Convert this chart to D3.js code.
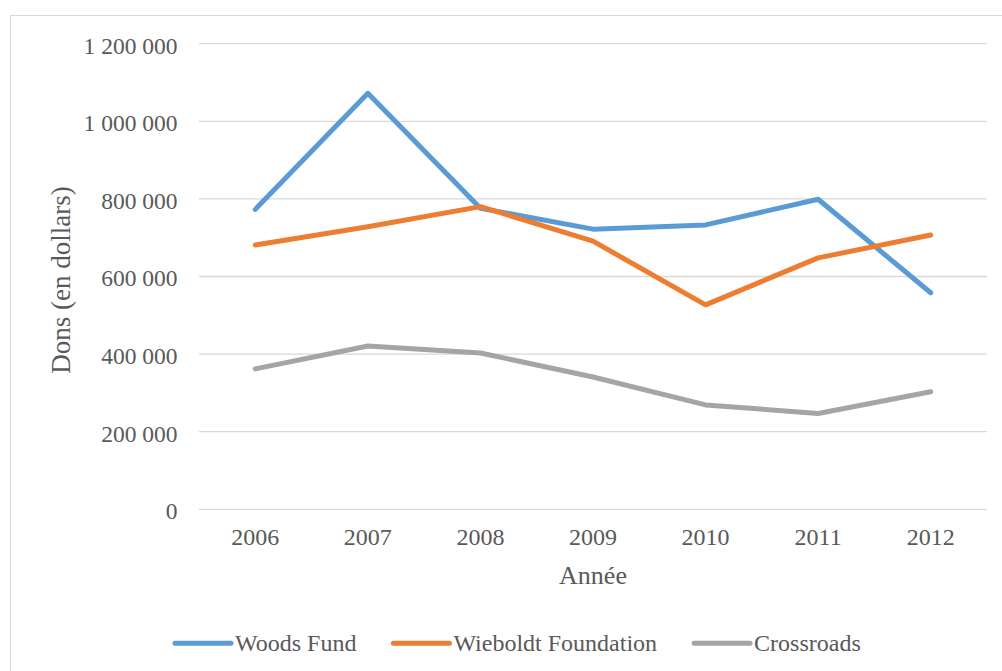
<!DOCTYPE html>
<html>
<head>
<meta charset="utf-8">
<script src="https://cdn.jsdelivr.net/npm/d3@7"></script>
<style>
  body { margin: 0; background: #fff; }
  svg text { font-family: "Liberation Serif", "Times New Roman", serif; fill: #595959; }
</style>
</head>
<body>
<div id="chart"></div>
<script>
// données
const years = ["2006", "2007", "2008", "2009", "2010", "2011", "2012"];
const woodsFund = [773000, 1072000, 776000, 722000, 733000, 799000, 558000];
const wieboldt = [681000, 728000, 780000, 691000, 527000, 648000, 707000];
const crossroads = [362000, 421000, 403000, 341000, 269000, 247000, 303000];
const yTicks = [0, 200000, 400000, 600000, 800000, 1000000, 1200000];

const seriesNames = ["Woods Fund", "Wieboldt Foundation", "Crossroads"];
const seriesColors = ["#5B9BD5", "#ED7D31", "#A5A5A5"];
const seriesValues = [woodsFund, wieboldt, crossroads];

const width = 1002, height = 671;
const margin = { left: 199, right: 15, top: 43.7, bottom: 161.7 };

const svg = d3.select("#chart").append("svg")
  .attr("width", width)
  .attr("height", height);

// cadre
svg.append("rect")
  .attr("x", 10.5).attr("y", 15.5)
  .attr("width", 1000).attr("height", 700)
  .attr("fill", "none")
  .attr("stroke", "#d9d9d9");

const x = d3.scaleBand()
  .domain(years)
  .range([margin.left, width - margin.right]);

const y = d3.scaleLinear()
  .domain([0, 1200000])
  .range([height - margin.bottom, margin.top]);

const fmt = (v) => d3.format(",")(v).replace(/,/g, " ");

// grille
svg.append("g")
  .selectAll("line")
  .data(yTicks)
  .enter()
  .append("line")
  .attr("x1", margin.left)
  .attr("x2", width - margin.right)
  .attr("y1", (d) => y(d))
  .attr("y2", (d) => y(d))
  .attr("stroke", "#d9d9d9")
  .attr("stroke-width", 1.3);

// axe Y
const yAxis = svg.append("g")
  .attr("transform", `translate(${margin.left - 21.5},0)`)
  .call(d3.axisLeft(y).tickValues(yTicks).tickFormat(fmt).tickSize(0).tickPadding(0));
yAxis.select(".domain").remove();
yAxis.selectAll("text")
  .attr("font-size", 23.5)
  .attr("dy", 0)
  .attr("y", 9.3);

// axe X
const xAxis = svg.append("g")
  .attr("transform", `translate(0,${y(0)})`)
  .call(d3.axisBottom(x).tickSize(0));
xAxis.select(".domain").remove();
xAxis.selectAll("text")
  .attr("font-size", 24)
  .attr("dy", 0)
  .attr("y", 36);

// titres
svg.append("text")
  .attr("x", (margin.left + width - margin.right) / 2)
  .attr("y", 584)
  .attr("text-anchor", "middle")
  .attr("font-size", 26)
  .text("Année");

svg.append("text")
  .attr("transform", "translate(69.5,280) rotate(-90)")
  .attr("text-anchor", "middle")
  .attr("font-size", 27)
  .text("Dons (en dollars)");

// courbes
const line = d3.line()
  .x((d, i) => x(years[i]) + x.bandwidth() / 2)
  .y((d) => y(d));

seriesValues.forEach((vals, k) => {
  svg.append("path")
    .datum(vals)
    .attr("d", line)
    .attr("fill", "none")
    .attr("stroke", seriesColors[k])
    .attr("stroke-width", 5)
    .attr("stroke-linecap", "round")
    .attr("stroke-linejoin", "round");
});

// légende
const legend = svg.append("g");
let lx = 175;
seriesNames.forEach((name, k) => {
  legend.append("line")
    .attr("x1", lx).attr("x2", lx + 56)
    .attr("y1", 643.3).attr("y2", 643.3)
    .attr("stroke", seriesColors[k])
    .attr("stroke-width", 5)
    .attr("stroke-linecap", "round");
  const t = legend.append("text")
    .attr("x", lx + 60)
    .attr("y", 651)
    .attr("font-size", 24)
    .text(name);
  lx += 60 + t.node().getComputedTextLength() + 37;
});
</script>
</body>
</html>
